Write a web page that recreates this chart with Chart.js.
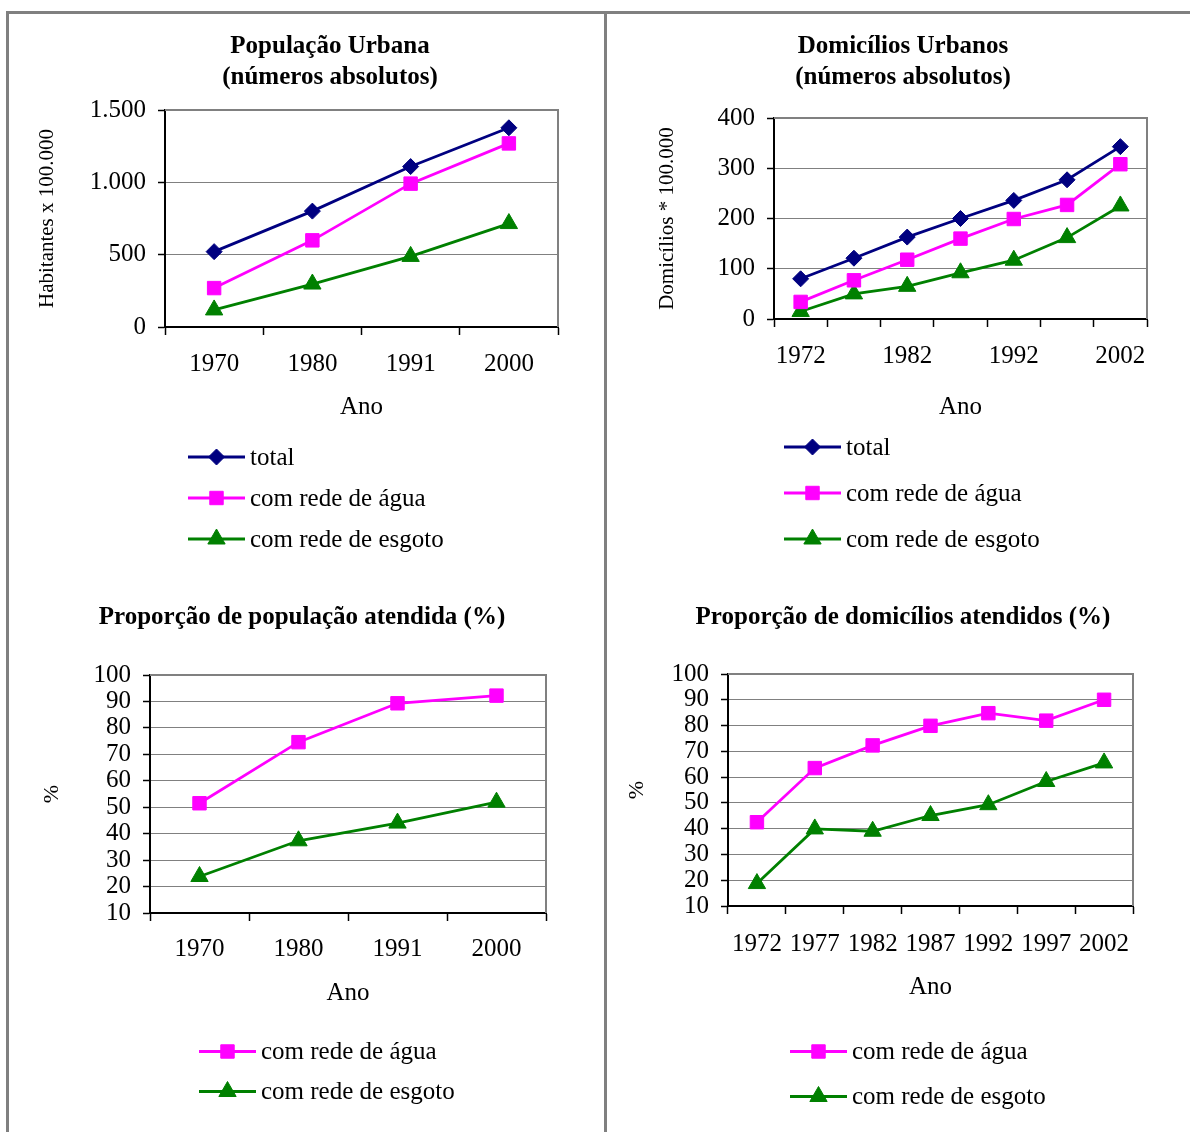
<!DOCTYPE html>
<html lang="pt-BR">
<head>
<meta charset="utf-8">
<title>Saneamento urbano</title>
<script src="https://cdn.jsdelivr.net/npm/chart.js@4.4.1/dist/chart.umd.min.js"></script>
<style>
  html, body { margin: 0; padding: 0; background: #fff; }
  body { width: 1190px; height: 1132px; position: relative; overflow: hidden; }
  .linha { position: absolute; background: #808080; }
  canvas { position: absolute; }
</style>
</head>
<body>
<div class="linha" style="left:6px; top:11px; width:1184px; height:3px"></div>
<div class="linha" style="left:6px; top:11px; width:3px; height:1121px"></div>
<div class="linha" style="left:604px; top:11px; width:3px; height:1121px"></div>

<canvas id="popAbs" width="593" height="576" style="left:10px; top:14px"></canvas>
<canvas id="domAbs" width="583" height="576" style="left:607px; top:14px"></canvas>
<canvas id="popPct" width="593" height="542" style="left:10px; top:590px"></canvas>
<canvas id="domPct" width="583" height="542" style="left:607px; top:590px"></canvas>

<script>
// anos dos censos e das PNADs
const anosCenso = ['1970', '1980', '1991', '2000'];
const anosPnad = ['1972', '1977', '1982', '1987', '1992', '1997', '2002'];

// população urbana (habitantes x 100.000)
const popTotal = [521, 801, 1109, 1377];
const popAgua = [269, 599, 991, 1269];
const popEsgoto = [118, 297, 488, 715];

// domicílios urbanos (* 100.000)
const domTotal = [80, 121, 163, 200, 236, 277, 343];
const domAgua = [34, 77, 118, 160, 199, 227, 308];
const domEsgoto = [15, 50, 65, 92, 117, 162, 225];

// proporções atendidas (%)
const popAguaPct = [51.5, 74.6, 89.3, 92.2];
const popEsgotoPct = [23.8, 37.3, 44.0, 51.9];
const domAguaPct = [42.5, 63.5, 72.3, 79.9, 84.8, 81.9, 90.0];
const domEsgotoPct = [18.7, 39.9, 39.0, 45.1, 49.3, 58.3, 65.5];

// marcas dos eixos y
const ticksPop = [0, 500, 1000, 1500];
const ticksDom = [0, 100, 200, 300, 400];
const ticksPct = [10, 20, 30, 40, 50, 60, 70, 80, 90, 100];

const FONTE = '"Liberation Serif", "Times New Roman", Times, serif';
const TAM = 25;

function fmtMilhar(v) {
  return String(v).replace(/\B(?=(\d{3})+(?!\d))/g, '.');
}

function serie(label, valores, cor, estilo, raio) {
  return {
    label: label,
    data: valores,
    borderColor: cor,
    backgroundColor: cor,
    pointBackgroundColor: cor,
    pointBorderColor: cor,
    borderWidth: 2.8,
    pointStyle: estilo,
    pointRadius: raio,
    pointBorderWidth: 1,
    tension: 0,
    clip: false
  };
}

// borda cinza em cima e à direita da área do gráfico
const moldura = {
  id: 'moldura',
  beforeDatasetsDraw(chart) {
    const { ctx, chartArea: a } = chart;
    ctx.save();
    ctx.strokeStyle = '#808080';
    ctx.lineWidth = 2;
    ctx.beginPath();
    ctx.moveTo(a.left, a.top);
    ctx.lineTo(a.right, a.top);
    ctx.lineTo(a.right, a.bottom);
    ctx.stroke();
    ctx.restore();
  }
};

// título e legenda na vertical, como no original
const textos = {
  id: 'textos',
  afterDraw(chart, args, o) {
    const ctx = chart.ctx;
    ctx.save();
    ctx.fillStyle = '#000';
    ctx.textBaseline = 'middle';
    ctx.textAlign = 'center';
    ctx.font = 'bold ' + TAM + 'px ' + FONTE;
    o.titulo.forEach((t, i) => ctx.fillText(t, o.tituloX, o.tituloY + i * 31));

    ctx.font = TAM + 'px ' + FONTE;
    ctx.textAlign = 'left';
    chart.data.datasets.forEach((ds, i) => {
      const x = o.legendaX;
      const y = o.legendaY + i * o.legendaPasso;
      ctx.strokeStyle = ds.borderColor;
      ctx.lineWidth = ds.borderWidth;
      ctx.beginPath();
      ctx.moveTo(x, y);
      ctx.lineTo(x + 57, y);
      ctx.stroke();
      ctx.fillStyle = ds.pointBackgroundColor;
      ctx.lineWidth = 1;
      Chart.helpers.drawPoint(ctx, { pointStyle: ds.pointStyle, radius: ds.pointRadius, borderWidth: 1, rotation: 0 }, x + 28.5, y);
      ctx.fillStyle = '#000';
      ctx.fillText(ds.label, x + 62, y + 1);
    });
    ctx.restore();
  }
};

function grafico(id, rotulos, series, o) {
  return new Chart(document.getElementById(id), {
    type: 'line',
    data: { labels: rotulos, datasets: series },
    plugins: [moldura, textos],
    options: {
      responsive: false,
      animation: false,
      events: [],
      layout: { padding: o.margem },
      plugins: {
        legend: { display: false },
        tooltip: { enabled: false },
        textos: o.textos
      },
      scales: {
        x: {
          type: 'category',
          offset: true,
          afterFit: s => { s.height = o.xAltura; },
          grid: { offset: true, drawOnChartArea: false, drawTicks: true, tickLength: 8, tickColor: '#000', tickWidth: 1.5 },
          border: { color: '#000', width: 2 },
          ticks: {
            autoSkip: false,
            maxRotation: 0,
            padding: o.xPad,
            color: '#000',
            font: { family: FONTE, size: TAM },
            callback: function (v, i) {
              if (o.pular && i % 2 === 1) return '';
              return this.getLabelForValue(v);
            }
          },
          title: {
            display: true,
            text: 'Ano',
            color: '#000',
            font: { family: FONTE, size: TAM },
            padding: { top: 0, bottom: o.xTituloPad }
          }
        },
        y: {
          min: o.ticks[0],
          max: o.ticks[o.ticks.length - 1],
          afterFit: s => { s.width = o.yLargura; },
          afterBuildTicks: s => { s.ticks = o.ticks.map(v => ({ value: v })); },
          grid: { color: '#808080', lineWidth: 1, tickLength: 7, tickColor: '#000', tickWidth: 1.5 },
          border: { color: '#000', width: 2 },
          ticks: {
            autoSkip: false,
            padding: 12,
            color: '#000',
            font: { family: FONTE, size: TAM },
            callback: v => fmtMilhar(v)
          },
          title: {
            display: true,
            text: o.yTitulo,
            color: '#000',
            font: { family: FONTE, size: o.yTituloTam },
            padding: { top: o.yTituloPad, bottom: 0 }
          }
        }
      }
    }
  });
}

const legTotal = 'total';
const legAgua = 'com rede de água';
const legEsgoto = 'com rede de esgoto';

grafico('popAbs', anosCenso, [
  serie(legTotal, popTotal, '#000080', 'rectRot', 8),
  serie(legAgua, popAgua, '#FF00FF', 'rect', 9.5),
  serie(legEsgoto, popEsgoto, '#008000', 'triangle', 10)
], {
  margem: { top: 96, right: 45, bottom: 163, left: 0 },
  ticks: ticksPop,
  yLargura: 155, yTitulo: 'Habitantes x 100.000', yTituloTam: 21, yTituloPad: 24.4,
  xAltura: 100, xPad: 14.5, xTituloPad: 5,
  textos: { titulo: ['População Urbana', '(números absolutos)'], tituloX: 320, tituloY: 33, legendaX: 178, legendaY: 443, legendaPasso: 41 }
});

grafico('domAbs', anosPnad, [
  serie(legTotal, domTotal, '#000080', 'rectRot', 8),
  serie(legAgua, domAgua, '#FF00FF', 'rect', 9.5),
  serie(legEsgoto, domEsgoto, '#008000', 'triangle', 10)
], {
  margem: { top: 104, right: 43, bottom: 163, left: 0 },
  ticks: ticksDom,
  yLargura: 167, yTitulo: 'Domicílios * 100.000', yTituloTam: 21, yTituloPad: 47.4,
  xAltura: 108, xPad: 14.5, xTituloPad: 5,
  pular: true,
  textos: { titulo: ['Domicílios Urbanos', '(números absolutos)'], tituloX: 296, tituloY: 33, legendaX: 177, legendaY: 433, legendaPasso: 46 }
});

grafico('popPct', anosCenso, [
  serie(legAgua, popAguaPct, '#FF00FF', 'rect', 9.5),
  serie(legEsgoto, popEsgotoPct, '#008000', 'triangle', 10)
], {
  margem: { top: 85, right: 57, bottom: 119, left: 0 },
  ticks: ticksPct,
  yLargura: 140, yTitulo: '%', yTituloTam: 22, yTituloPad: 28.8,
  xAltura: 100, xPad: 13.5, xTituloPad: 5,
  textos: { titulo: ['Proporção de população atendida (%)'], tituloX: 292, tituloY: 28, legendaX: 189, legendaY: 461.5, legendaPasso: 40 }
});

grafico('domPct', anosPnad, [
  serie(legAgua, domAguaPct, '#FF00FF', 'rect', 9.5),
  serie(legEsgoto, domEsgotoPct, '#008000', 'triangle', 10)
], {
  margem: { top: 84, right: 57, bottom: 126, left: 0 },
  ticks: ticksPct,
  yLargura: 121, yTitulo: '%', yTituloTam: 22, yTituloPad: 16.8,
  xAltura: 100, xPad: 15, xTituloPad: 4,
  textos: { titulo: ['Proporção de domicílios atendidos (%)'], tituloX: 296, tituloY: 28, legendaX: 183, legendaY: 461.5, legendaPasso: 45 }
});
</script>
</body>
</html>
